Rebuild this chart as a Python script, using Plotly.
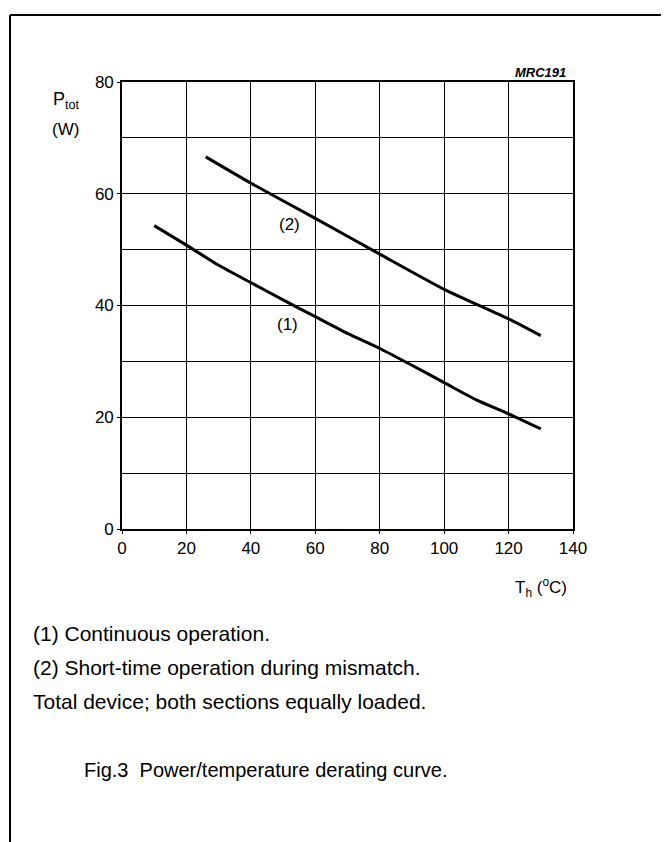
import plotly.graph_objects as go

# ---- data ----
temp_1 = [10, 20, 30, 40, 50, 60, 70, 80, 90, 100, 110, 120, 130]
power_1 = [54.3, 50.8, 47.2, 44.1, 41.0, 38.0, 35.0, 32.3, 29.3, 26.2, 23.1, 20.6, 17.9]
temp_2 = [26, 40, 60, 80, 100, 120, 130]
power_2 = [66.6, 61.9, 55.6, 49.2, 42.9, 37.6, 34.6]
x_ticks = [0, 20, 40, 60, 80, 100, 120, 140]
y_ticks = [0, 20, 40, 60, 80]
curve_labels = ["(1)", "(2)"]
notes = ["(1) Continuous operation.",
         "(2) Short-time operation during mismatch.",
         "Total device; both sections equally loaded."]
caption = "Fig.3  Power/temperature derating curve."

# page has an 8px body margin, so the figure is drawn 8px smaller and
# reference pixel positions are shifted by that offset
OFF = 8
W, H = 669 - OFF, 842 - OFF
L, R, T, B = 122 - OFF, 96, 82 - OFF, 313
pw, ph = W - L - R, H - T - B


def px(x):
    return (x - OFF - L) / pw


def py(y):
    return (H - B - (y - OFF)) / ph


FONT = "Liberation Sans, Arial, Helvetica, sans-serif"

fig = go.Figure()
fig.add_trace(go.Scatter(x=temp_1, y=power_1, mode="lines",
                         line=dict(color="black", width=3, shape="spline", smoothing=0.6),
                         showlegend=False, hoverinfo="skip"))
fig.add_trace(go.Scatter(x=temp_2, y=power_2, mode="lines",
                         line=dict(color="black", width=3, shape="spline", smoothing=0.6),
                         showlegend=False, hoverinfo="skip"))

axis_common = dict(showline=True, linecolor="black", linewidth=1.6, mirror=True,
                   showgrid=True, gridcolor="black", gridwidth=1.4, zeroline=False,
                   tickfont=dict(family=FONT, size=17, color="black"),
                   ticks="outside", ticklen=3, tickcolor="black", tickwidth=1.2)

fig.update_xaxes(range=[0, 140], tickvals=x_ticks, ticktext=[str(v) for v in x_ticks],
                 fixedrange=True, **axis_common)
fig.update_yaxes(range=[0, 80], tickvals=y_ticks, ticktext=[str(v) for v in y_ticks],
                 minor=dict(dtick=10, showgrid=True, gridcolor="black", gridwidth=1.4, ticks=""),
                 fixedrange=True, **axis_common)

ann = []
ann.append(dict(x=52, y=54.5, xref="x", yref="y", text=curve_labels[1], showarrow=False,
                font=dict(family=FONT, size=17, color="black")))
ann.append(dict(x=51.5, y=36.6, xref="x", yref="y", text=curve_labels[0], showarrow=False,
                font=dict(family=FONT, size=17, color="black")))
ann.append(dict(x=px(568), y=py(73), xref="paper", yref="paper", text="<b><i>MRC191</i></b>",
                showarrow=False, xanchor="right", yanchor="middle",
                font=dict(family=FONT, size=13, color="black")))
ann.append(dict(x=px(66), y=py(101), xref="paper", yref="paper", text="P<sub>tot</sub>",
                showarrow=False, xanchor="center", yanchor="middle",
                font=dict(family=FONT, size=18, color="black")))
ann.append(dict(x=px(65), y=py(130), xref="paper", yref="paper", text="(W)",
                showarrow=False, xanchor="center", yanchor="middle",
                font=dict(family=FONT, size=17, color="black")))
ann.append(dict(x=px(569), y=py(587), xref="paper", yref="paper", text="T<sub>h</sub> (<sup>o</sup>C)",
                showarrow=False, xanchor="right", yanchor="middle",
                font=dict(family=FONT, size=17, color="black")))
for i, t in enumerate(notes):
    ann.append(dict(x=px(31), y=py(633 + 34 * i), xref="paper", yref="paper", text=t,
                    showarrow=False, xanchor="left", yanchor="middle",
                    font=dict(family=FONT, size=21, color="black")))
ann.append(dict(x=px(266), y=py(770), xref="paper", yref="paper", text=caption,
                showarrow=False, xanchor="center", yanchor="middle",
                font=dict(family=FONT, size=20, color="black")))

shapes = [
    dict(type="line", xref="paper", yref="paper", x0=px(10), y0=py(15), x1=px(10), y1=py(850),
         line=dict(color="black", width=2)),
    dict(type="line", xref="paper", yref="paper", x0=px(10), y0=py(15), x1=px(680), y1=py(15),
         line=dict(color="black", width=2)),
]

fig.update_layout(width=W, height=H, margin=dict(l=L, r=R, t=T, b=B, autoexpand=False),
                  paper_bgcolor="white", plot_bgcolor="white",
                  annotations=ann, shapes=shapes, showlegend=False,
                  font=dict(family=FONT, color="black"))

fig.write_html("out.html", config={"displayModeBar": False})
